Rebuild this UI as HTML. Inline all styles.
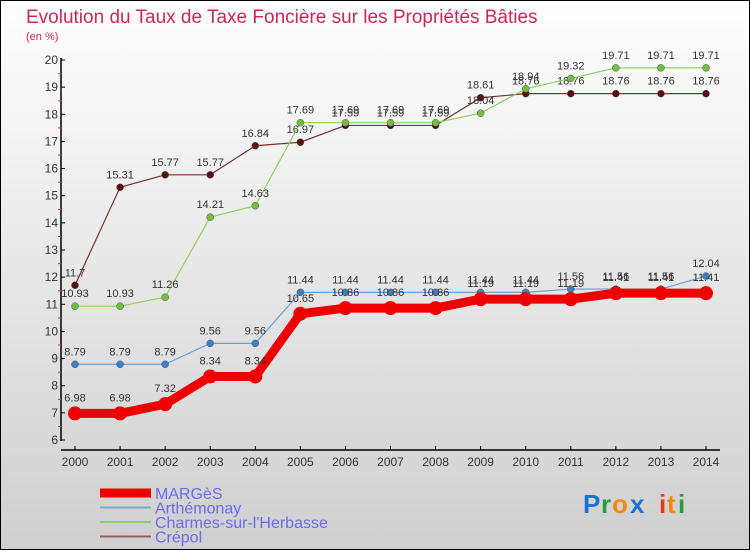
<!DOCTYPE html>
<html><head><meta charset="utf-8"><style>
html,body{margin:0;padding:0}
body{width:750px;height:550px;overflow:hidden;font-family:"Liberation Sans",sans-serif}
</style></head><body>
<svg id="chart" width="750" height="550" xmlns="http://www.w3.org/2000/svg" font-family="Liberation Sans, sans-serif">
<defs><linearGradient id="bg" x1="0" y1="0" x2="0" y2="1"><stop offset="0" stop-color="#ffffff"/><stop offset="1" stop-color="#cfcfcf"/></linearGradient></defs>
<rect x="0.5" y="0.5" width="749" height="549" fill="url(#bg)" stroke="#000"/>
<text x="26" y="23" font-size="19" fill="#c8285a">Evolution du Taux de Taxe Foncière sur les Propriétés Bâties</text>
<text x="26" y="40" font-size="11" fill="#c8285a">(en %)</text>
<g id="axes"></g>
<g id="series"></g>
<g id="legend"></g>
<g font-size="26" font-weight="bold">
<text x="583" y="513" fill="#1a73d0">P</text><text x="601" y="513" fill="#2a9a3a">r</text><text x="612" y="513" fill="#f08a10">o</text><text x="630" y="513" fill="#1a73d0">x</text><text x="659" y="513" fill="#e83a10">i</text><text x="667" y="513" fill="#f08a10">t</text><text x="678" y="513" fill="#2a9a3a">i</text>
</g>
</svg>
<script>
const years = [2000,2001,2002,2003,2004,2005,2006,2007,2008,2009,2010,2011,2012,2013,2014];
const yTicks = [6,7,8,9,10,11,12,13,14,15,16,17,18,19,20];
const marges = [6.98,6.98,7.32,8.34,8.34,10.65,10.86,10.86,10.86,11.19,11.19,11.19,11.41,11.41,11.41];
const arthemonay = [8.79,8.79,8.79,9.56,9.56,11.44,11.44,11.44,11.44,11.44,11.44,11.56,11.56,11.56,12.04];
const charmes = [10.93,10.93,11.26,14.21,14.63,17.69,17.69,17.69,17.69,18.04,18.94,19.32,19.71,19.71,19.71];
const crepol = [11.7,15.31,15.77,15.77,16.84,16.97,17.59,17.59,17.59,18.61,18.76,18.76,18.76,18.76,18.76];
const seriesNames = ["MARGèS","Arthémonay","Charmes-sur-l'Herbasse","Crépol"];

const NS="http://www.w3.org/2000/svg";
const X0=75,X1=706,Y6=440,Y20=60;
function xs(i){return X0+(X1-X0)*i/(years.length-1);}
function ys(v){return Y6-(v-6)*(Y6-Y20)/14;}
function mk(tag,attrs,parent){const e=document.createElementNS(NS,tag);for(const k in attrs)e.setAttribute(k,attrs[k]);parent.appendChild(e);return e;}
const axes=document.getElementById('axes');
let yl=mk('line',{x1:61,y1:58,x2:61,y2:441,stroke:'#000','stroke-width':1.5},axes);


let xl=mk('line',{x1:61,y1:450,x2:720,y2:450,stroke:'#000','stroke-width':1.5},axes);


yTicks.forEach(v=>{
  const y=ys(v);
  mk('line',{x1:61,y1:y,x2:65,y2:y,stroke:'#000'},axes);
  if(v<20) mk('line',{x1:58,y1:y-13.5,x2:61,y2:y-13.5,stroke:'#f33'},axes);
  const t=mk('text',{x:58,y:y+4,'font-size':12,'text-anchor':'end',fill:'#333'},axes);
  t.textContent=v;
  
  
});
years.forEach((yr,i)=>{
  const x=xs(i);
  mk('line',{x1:x,y1:446,x2:x,y2:450,stroke:'#000'},axes);
  const t=mk('text',{x:x,y:466,'font-size':12,'text-anchor':'middle',fill:'#333'},axes);
  t.textContent=yr;
  
  
});
const ser=document.getElementById('series');
const defs=[
 {d:crepol,c:'#7a3030',dot:'#5a1010',w:1.2,r:3.5,name:'crepol-line'},
 {d:charmes,c:'#8fd060',dot:'#70c040',w:1.2,r:3.5,name:'charmes-line'},
 {d:arthemonay,c:'#6aa0d0',dot:'#3a80c8',w:1.2,r:3.5,name:'arthemonay-line'},
 {d:marges,c:'#ee0000',dot:'#ee0000',w:9,r:7,name:'marges-line'}
];
defs.forEach(s=>{
  const g=mk('g',{},ser);
  
  
  mk('polyline',{points:s.d.map((v,i)=>xs(i)+','+ys(v)).join(' '),fill:'none',stroke:s.c,'stroke-width':s.w},g);
  s.d.forEach((v,i)=>{
    const c=mk('circle',{cx:xs(i),cy:ys(v),r:s.r,fill:s.dot,stroke:s.w>2?'none':'#555','stroke-width':0.5},g);
    
    
    const t=mk('text',{x:xs(i),y:ys(v)-(s.w>2?12:9),'font-size':11,'text-anchor':'middle',fill:'#333'},g);
    t.textContent=v;
    
    
  });
});
const lg=document.getElementById('legend');
const lc=[['#ee0000',9],['#7aaccc',2],['#90d070',2],['#906060',2]];
seriesNames.forEach((n,i)=>{
  const y=493+i*14.5;
  const g=mk('g',{},lg);
  
  
  mk('line',{x1:100,y1:y,x2:151,y2:y,stroke:lc[i][0],'stroke-width':lc[i][1]},g);
  const t=mk('text',{x:155,y:y+6,'font-size':16,fill:'#6a6af0'},g);
  t.textContent=n;
});
</script>
</body></html>
